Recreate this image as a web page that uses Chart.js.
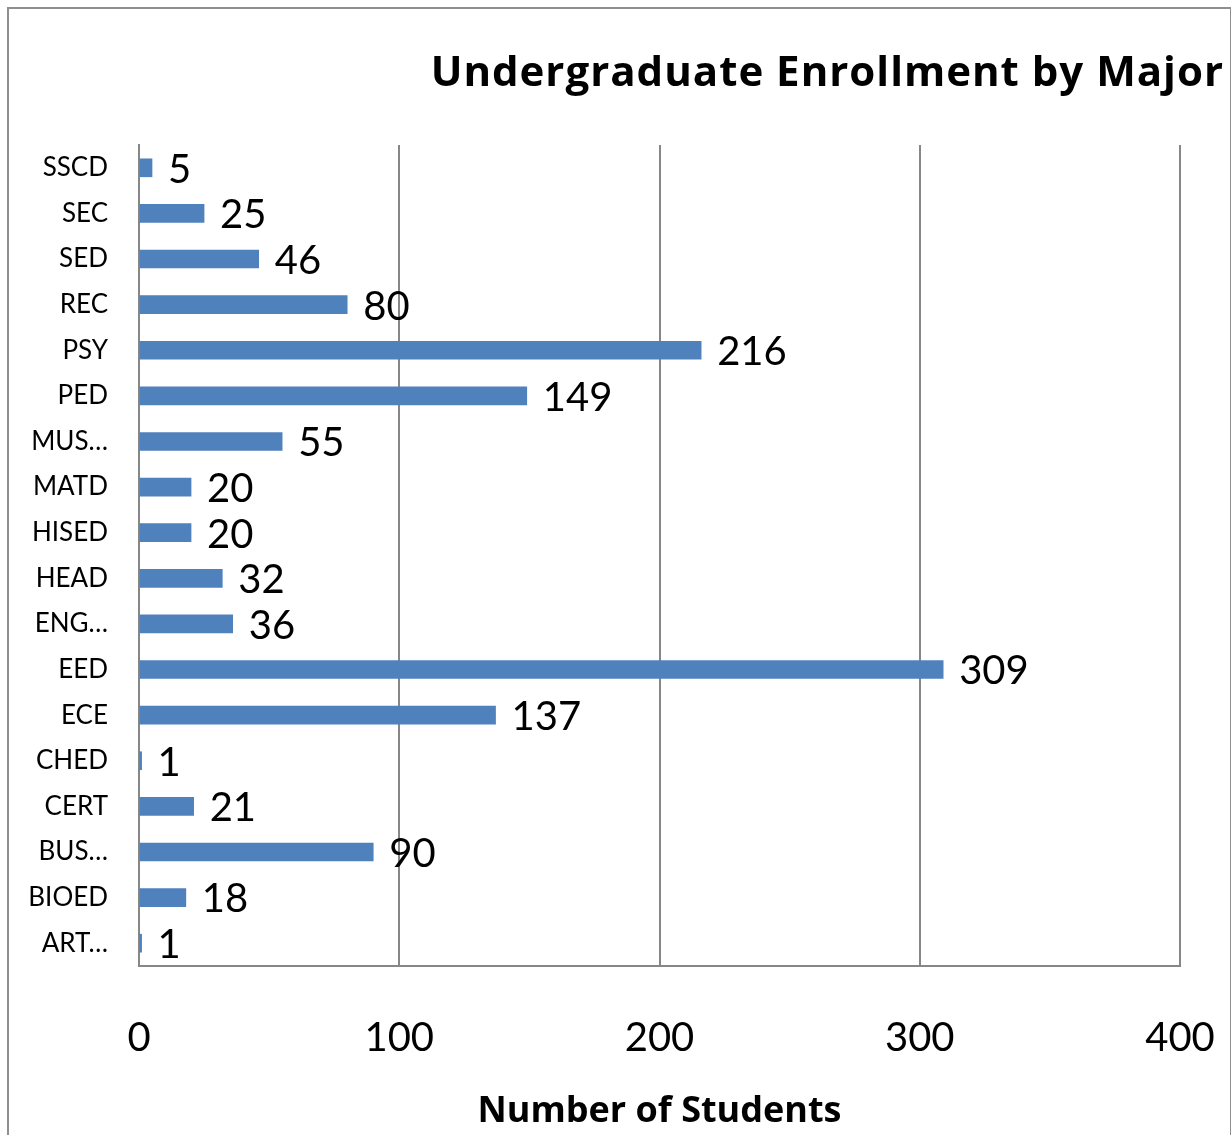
<!DOCTYPE html>
<html>
<head>
<meta charset="utf-8">
<script src="https://cdn.jsdelivr.net/npm/chart.js@4.4.1/dist/chart.umd.min.js"></script>
<style>
  body { margin: 0; background: #fff; }
  #frame { position: absolute; left: 7px; top: 7px; width: 1221px; height: 1200px; border: 2px solid #8e8e8e; }
  #c { position: absolute; left: 0; top: 0; }
</style>
</head>
<body>
<div id="frame"></div>
<canvas id="c" width="1231" height="1135"></canvas>
<script>
var majors = ['SSCD', 'SEC', 'SED', 'REC', 'PSY', 'PED', 'MUS…', 'MATD', 'HISED', 'HEAD', 'ENG…', 'EED', 'ECE', 'CHED', 'CERT', 'BUS…', 'BIOED', 'ART…'];
var students = [5, 25, 46, 80, 216, 149, 55, 20, 20, 32, 36, 309, 137, 1, 21, 90, 18, 1];
var xTicks = [0, 100, 200, 300, 400];

var fontFam = 'Lato, "Open Sans", sans-serif';
var boldFam = '"Open Sans", Lato, sans-serif';
var gridGrey = '#878787';

// title drawn at the right, cut off like the original
var titlePlugin = {
    id: 'bigTitle',
    afterDraw: function(chart) {
        var ctx = chart.ctx;
        ctx.save();
        ctx.font = 'bold 42px ' + boldFam;
        ctx.letterSpacing = '1px';
        ctx.fillStyle = '#000';
        ctx.textAlign = 'right';
        ctx.textBaseline = 'middle';
        ctx.fillText('Undergraduate Enrollment by Major', 1224, 74);
        ctx.restore();
    }
};

// value labels right of each bar
var valuePlugin = {
    id: 'values',
    afterDatasetsDraw: function(chart) {
        var ctx = chart.ctx;
        var meta = chart.getDatasetMeta(0);
        ctx.save();
        ctx.font = '40px ' + fontFam;
        ctx.fillStyle = '#000';
        ctx.textAlign = 'left';
        ctx.textBaseline = 'middle';
        meta.data.forEach(function(bar, i) {
            ctx.fillText(String(students[i]), bar.x + 16, bar.y + 2);
        });
        ctx.restore();
    }
};

var chart = new Chart(document.getElementById('c').getContext('2d'), {
    type: 'bar',
    data: {
        labels: majors,
        datasets: [{
            data: students,
            backgroundColor: '#4f81bd',
            borderWidth: 0,
            barThickness: 18
        }]
    },
    options: {
        indexAxis: 'y',
        responsive: false,
        animation: false,
        layout: { padding: { top: 145, right: 51, left: 0, bottom: 0 } },
        plugins: {
            legend: { display: false },
            tooltip: { enabled: false }
        },
        scales: {
            x: {
                min: 0,
                max: 400,
                afterBuildTicks: function(scale) {
                    scale.ticks = xTicks.map(function(v) { return { value: v }; });
                },
                afterFit: function(scale) {
                    scale.height = 169;
                    scale.paddingLeft = 0;
                    scale.paddingRight = 0;
                },
                grid: { color: gridGrey, lineWidth: 2, drawTicks: false },
                border: { display: true, color: gridGrey, width: 2 },
                ticks: {
                    color: '#000',
                    padding: 48,
                    font: { family: fontFam, size: 40 }
                },
                title: {
                    display: true,
                    text: 'Number of Students',
                    color: '#000',
                    font: { family: boldFam, size: 36, weight: 'bold' },
                    padding: { top: 0, bottom: 2 }
                }
            },
            y: {
                afterFit: function(scale) { scale.width = 139; },
                grid: { display: false, drawTicks: false },
                border: { display: true, color: gridGrey, width: 2 },
                ticks: {
                    color: '#000',
                    padding: 31,
                    autoSkip: false,
                    font: { family: fontFam, size: 26 }
                }
            }
        }
    },
    plugins: [titlePlugin, valuePlugin]
});
</script>
</body>
</html>
